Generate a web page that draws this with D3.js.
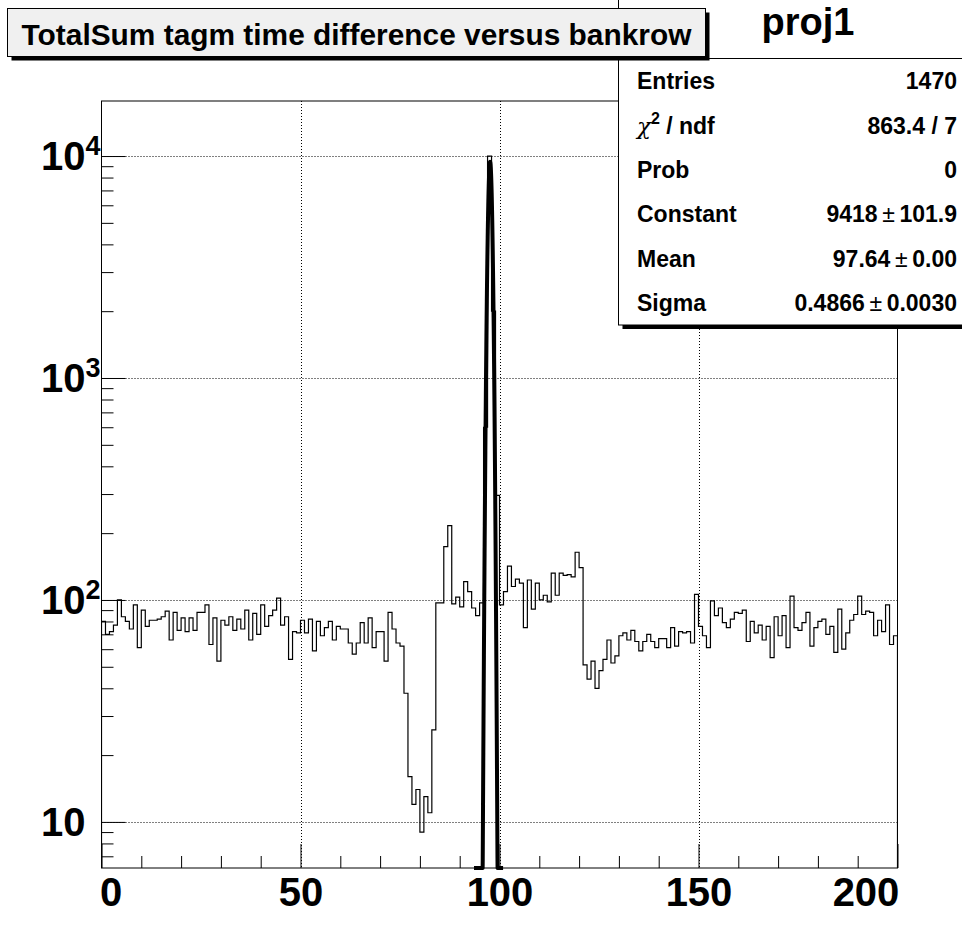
<!DOCTYPE html>
<html><head><meta charset="utf-8">
<script src="https://cdn.jsdelivr.net/npm/d3@7"></script>
<style>
body{margin:0;background:#fff}
svg{display:block}
text{font-family:"Liberation Sans",Arial,Helvetica,sans-serif;font-weight:bold;fill:#000}
</style>
</head><body><div id="chart"></div>
<script>
// ---------------- data ----------------
const histTitle = "TotalSum tagm time difference versus bankrow";
const statsName = "proj1";
const xRange = [0, 200];
const counts = [
  80, 70, 72, 77, 100, 84, 80, 74, 95, 61,
  90, 76, 81, 81, 82, 84, 89, 66, 88, 73,
  83, 72, 83, 73, 88, 88, 95, 63, 83, 53,
  81, 77, 84, 73, 82, 74, 90, 66, 87, 70,
  95, 76, 85, 90, 102, 77, 84, 54, 72, 71,
  81, 71, 82, 59, 80, 69, 75, 80, 66, 76,
  74, 74, 64, 57, 64, 79, 64, 83, 61, 72,
  72, 53, 88, 74, 64, 62, 38, 16, 12, 14,
  9, 13, 11, 26, 97, 97, 174, 216, 96, 103,
  93, 121, 109, 92, 85, 97, 600, 10000, 2000, 296,
  95, 109, 142, 115, 124, 119, 75, 123, 91, 119,
  100, 105, 98, 132, 105, 132, 129, 130, 127, 164,
  140, 51, 44, 53, 40, 48, 54, 66, 52, 56,
  69, 71, 66, 73, 65, 59, 65, 70, 65, 61,
  67, 67, 61, 75, 62, 72, 71, 72, 64, 106,
  76, 69, 61, 99, 85, 92, 79, 75, 82, 88,
  87, 90, 65, 80, 71, 77, 66, 76, 55, 84,
  69, 85, 61, 104, 75, 73, 79, 88, 62, 75,
  80, 82, 70, 76, 58, 91, 60, 71, 81, 86,
  104, 86, 89, 88, 69, 81, 72, 95, 63, 69
];
const fitConstant = 9418;
const fitMean = 97.64;
const fitSigma = 0.4866;
const fitRange = [93.6, 100.9];
const xTickValues = [0, 50, 100, 150, 200];
const xMinorStep = 10;
const yTickValues = [10, 100, 1000, 10000];
const yTickExponents = ["", "2", "3", "4"];
const yDomain = [6.2, 17700];
const statLabels = ["Entries", "\u03C7|2| / ndf", "Prob", "Constant", "Mean", "Sigma"];
const statValues = [["1470"], ["863.4 / 7"], ["0"], ["9418", "101.9"], ["97.64", "0.00"], ["0.4866", "0.0030"]];

// ---------------- layout ----------------
const W = 962, H = 938;
const F = {l: 101.5, r: 897.5, t: 101, b: 868};

const svg = d3.select("#chart").append("svg").attr("width", W).attr("height", H);
svg.append("rect").attr("width", W).attr("height", H).attr("fill", "#fff");

const x = d3.scaleLinear().domain(xRange).range([F.l, F.r]);
const y = d3.scaleLog().domain(yDomain).range([F.b, F.t]);

svg.append("clipPath").attr("id", "frameClip").append("rect")
  .attr("x", F.l).attr("y", F.t).attr("width", F.r - F.l).attr("height", F.b - F.t);

// grid
const grid = svg.append("g").attr("stroke", "#000").attr("stroke-width", 1).attr("stroke-dasharray", "1,2");
xTickValues.filter(v => v > xRange[0] && v < xRange[1]).forEach(v => {
  grid.append("line").attr("x1", Math.round(x(v)) + 0.5).attr("x2", Math.round(x(v)) + 0.5)
    .attr("y1", F.t).attr("y2", F.b);
});
yTickValues.forEach(v => {
  grid.append("line").attr("y1", Math.round(y(v)) + 0.5).attr("y2", Math.round(y(v)) + 0.5)
    .attr("x1", F.l).attr("x2", F.r);
});

// histogram
const pts = [[xRange[0], yDomain[0]]];
counts.forEach((c, i) => { pts.push([i, c]); pts.push([i + 1, c]); });
pts.push([xRange[1], yDomain[0]]);
const line = d3.line().x(d => x(d[0])).y(d => y(Math.max(d[1], yDomain[0])));
svg.append("path").attr("d", line(pts)).attr("fill", "none").attr("stroke", "#000")
  .attr("stroke-width", 1.2).attr("clip-path", "url(#frameClip)");

// fit function
const fitPts = d3.range(0, 301).map(k => {
  const xv = fitRange[0] + (fitRange[1] - fitRange[0]) * k / 300;
  const z = (xv - fitMean) / fitSigma;
  return [xv, fitConstant * Math.exp(-0.5 * z * z)];
});
svg.append("path").attr("d", line(fitPts)).attr("fill", "none").attr("stroke", "#000")
  .attr("stroke-width", 4).attr("stroke-linejoin", "round");

// frame
svg.append("rect").attr("x", F.l).attr("y", F.t).attr("width", F.r - F.l).attr("height", F.b - F.t)
  .attr("fill", "none").attr("stroke", "#000").attr("stroke-width", 1);

// x axis
const xMinor = d3.range(xRange[0], xRange[1] + 0.001, xMinorStep).filter(v => !xTickValues.includes(v));
const gxMinor = svg.append("g").attr("transform", `translate(0,${F.b})`)
  .call(d3.axisBottom(x).tickValues(xMinor).tickSize(-12).tickFormat(""));
const gx = svg.append("g").attr("transform", `translate(0,${F.b})`)
  .call(d3.axisBottom(x).tickValues(xTickValues).tickSize(-24).tickPadding(9.6).tickFormat(d3.format("d")));
[gx, gxMinor].forEach(g => { g.select(".domain").remove(); g.selectAll("line").attr("stroke", "#000"); });
gx.selectAll("text").attr("font-size", 40).attr("font-family", null);
gx.selectAll("text").filter(d => d === xRange[0]).attr("dx", 9);
gx.selectAll("text").filter(d => d === xRange[1]).attr("dx", -32);

// y axis
const yMinor = [];
for (let e = 0; e <= 4; e++) for (let m = 2; m <= 9; m++) {
  const v = m * Math.pow(10, e);
  if (v >= yDomain[0] && v <= yDomain[1]) yMinor.push(v);
}
const gyMinor = svg.append("g").attr("transform", `translate(${F.l},0)`)
  .call(d3.axisLeft(y).tickValues(yMinor).tickSize(-12).tickFormat(""));
const gy = svg.append("g").attr("transform", `translate(${F.l},0)`)
  .call(d3.axisLeft(y).tickValues(yTickValues).tickSize(-24).tickFormat(""));
[gy, gyMinor].forEach(g => { g.select(".domain").remove(); g.selectAll("line").attr("stroke", "#000"); });
yTickValues.forEach((v, i) => {
  const t = svg.append("text").attr("x", 41).attr("y", y(v) + 14).attr("font-size", 40).text("10");
  if (yTickExponents[i]) t.append("tspan").attr("font-size", 27).attr("dy", -15).text(yTickExponents[i]);
});

// stats box
const S = {l: 618.5, r: 962, t: -1, b: 325, sep: 58.5};
svg.append("rect").attr("x", S.l + 4).attr("y", S.b).attr("width", S.r - S.l).attr("height", 4).attr("fill", "#000");
svg.append("rect").attr("x", S.l).attr("y", S.t).attr("width", S.r - S.l + 5).attr("height", S.b - S.t)
  .attr("fill", "#fff").attr("stroke", "#000").attr("stroke-width", 1);
svg.append("line").attr("x1", S.l).attr("x2", S.r).attr("y1", S.sep).attr("y2", S.sep).attr("stroke", "#000");
svg.append("text").attr("x", 808).attr("y", 35).attr("text-anchor", "middle").attr("font-size", 38).text(statsName);
const rowH = (S.b - S.sep) / statLabels.length;
statLabels.forEach((lab, i) => {
  const cy = S.sep + rowH * (i + 0.5) + 8.5;
  const t = svg.append("text").attr("x", 637).attr("y", cy).attr("font-size", 23);
  const parts = lab.split("|");
  if (parts.length === 3) {
    t.append("tspan").attr("font-weight", "normal").attr("font-family", "DejaVu Serif, serif").attr("font-style", "italic").text(parts[0]);
    t.append("tspan").attr("font-size", 16).attr("dy", -10).text(parts[1]);
    t.append("tspan").attr("dy", 10).text(parts[2]);
  } else t.text(lab);
  const v = svg.append("text").attr("x", 957).attr("y", cy).attr("font-size", 23).attr("text-anchor", "end");
  const vals = statValues[i];
  v.append("tspan").text(vals[0]);
  if (vals.length > 1) {
    v.append("tspan").attr("font-weight", "normal").text("\u2009\u00B1\u2009");
    v.append("tspan").text(vals[1]);
  }
});

// title box
const T = {l: 7.5, t: 8.5, w: 698, h: 48};
svg.append("rect").attr("x", T.l + 4).attr("y", T.t + 4).attr("width", T.w).attr("height", T.h).attr("fill", "#000");
svg.append("rect").attr("x", T.l).attr("y", T.t).attr("width", T.w).attr("height", T.h)
  .attr("fill", "#f0f0f0").attr("stroke", "#000").attr("stroke-width", 1);
const tt = svg.append("text").attr("x", T.l + T.w / 2).attr("y", 45).attr("text-anchor", "middle").attr("font-size", 28).text(histTitle);
const len = tt.node().getComputedTextLength();
tt.attr("font-size", 28 * 670 / len);
</script>
</body></html>
